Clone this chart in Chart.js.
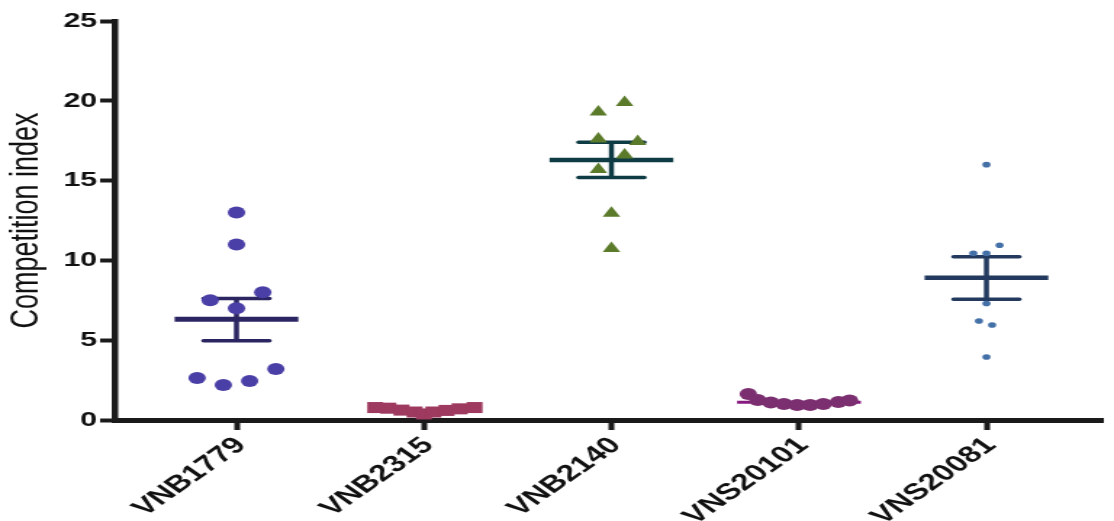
<!DOCTYPE html>
<html>
<head>
<meta charset="utf-8">
<script src="https://cdn.jsdelivr.net/npm/chart.js@4/dist/chart.umd.min.js"></script>
<style>
html,body{margin:0;padding:0;background:#fff;}
#c{display:block;}
</style>
</head>
<body>
<canvas id="c" width="768" height="521" style="width:1114px;height:521px"></canvas>
<script>
// categories and values
var categories=['VNB1779','VNB2315','VNB2140','VNS20101','VNS20081'];
var yTicks=[0,5,10,15,20,25];

var vnb1779=[13,11,7.5,8,7,2.63,2.19,2.44,3.19];
var vnb1779Jit=[0,0,-0.14,0.14,0,-0.21,-0.07,0.07,0.21];
var vnb2315=[0.78,0.74,0.62,0.5,0.38,0.5,0.6,0.7,0.78];
var vnb2315Jit=[-0.26,-0.19,-0.12,-0.05,0,0.05,0.12,0.19,0.27];
var vnb2140=[19.9,19.3,17.6,17.45,16.6,15.7,12.95,10.75];
var vnb2140Jit=[0.07,-0.07,-0.07,0.14,0.07,-0.07,0,0];
var vns20101=[1.63,1.25,1.1,1.0,0.94,0.94,1.0,1.13,1.22];
var vns20101Jit=[-0.27,-0.22,-0.15,-0.08,-0.01,0.06,0.13,0.21,0.27];
var vns20081=[16,10.95,10.45,10.45,7.3,6.2,5.95,3.95];
var vns20081Jit=[0,0.07,-0.07,0,0,-0.04,0.03,0];

var groupVals=[vnb1779,vnb2315,vnb2140,vns20101,vns20081];
var groupJit=[vnb1779Jit,vnb2315Jit,vnb2140Jit,vns20101Jit,vns20081Jit];

// mean and SEM bars as drawn
var meanVals=[6.31,null,16.29,1.11,8.92];
var semHi=[7.62,null,17.4,null,10.23];
var semLo=[4.97,null,15.2,null,7.56];

var pointColors=['#4a3fa6','#9e3a5f','#5b7a2a','#7b2f70','#4470a8'];
var lineColors=['#2b2562','#9e3a5f','#0f3b45','#871a7e','#233a5e'];
var pointStyles=['circle','rect','triangle','circle','circle'];
var pointRadii=[6,7.8,7,6,2.8];
var meanWidths=[5,5,4.5,3,4.5];

var FONT="'Liberation Sans', Arial, Helvetica, sans-serif";
var AXIS='#1a1a1a';
var HALF_MEAN=0.33, HALF_CAP=0.175;

var datasets=[];
groupVals.forEach(function(vals,g){
    datasets.push({
        type:'scatter',
        data:vals.map(function(v,i){return {x:g+groupJit[g][i],y:v};}),
        pointStyle:pointStyles[g],
        pointRadius:pointRadii[g],
        pointBackgroundColor:pointColors[g],
        pointBorderColor:pointColors[g],
        pointBorderWidth:0,
        order:0
    });
    if(meanVals[g]!==null){
        datasets.push({
            type:'line',
            data:[{x:g-HALF_MEAN,y:meanVals[g]},{x:g+HALF_MEAN,y:meanVals[g]}],
            borderColor:lineColors[g],
            borderWidth:meanWidths[g],
            pointRadius:0,
            fill:false,
            order:1
        });
    }
    if(semHi[g]!==null){
        datasets.push({
            type:'line',
            data:[
                {x:g-HALF_CAP,y:semHi[g]},{x:g+HALF_CAP,y:semHi[g]},{x:g,y:null},
                {x:g-HALF_CAP,y:semLo[g]},{x:g+HALF_CAP,y:semLo[g]},{x:g,y:null},
                {x:g,y:semLo[g]},{x:g,y:semHi[g]}
            ],
            borderColor:lineColors[g],
            borderWidth:3.5,
            borderCapStyle:'round',
            spanGaps:false,
            pointRadius:0,
            fill:false,
            order:1
        });
    }
});

new Chart(document.getElementById('c').getContext('2d'),{
    type:'scatter',
    data:{datasets:datasets},
    options:{
        responsive:false,
        animation:false,
        clip:false,
        layout:{padding:{top:21,right:0,left:0,bottom:0}},
        plugins:{legend:{display:false},tooltip:{enabled:false}},
        scales:{
            x:{
                type:'linear',
                min:-0.65,max:4.62,
                afterBuildTicks:function(s){s.ticks=categories.map(function(c,i){return {value:i};});},
                afterFit:function(s){s.height=101;},
                border:{display:true,color:AXIS,width:5},
                grid:{display:true,drawOnChartArea:false,drawTicks:true,tickLength:10,tickWidth:4,tickColor:AXIS},
                ticks:{
                    autoSkip:false,
                    minRotation:45,maxRotation:45,
                    padding:2,
                    labelOffset:3,
                    color:'#111',
                    font:{family:FONT,size:23,weight:'bold'},
                    callback:function(v){return categories[v]!==undefined?categories[v]:'';}
                }
            },
            y:{
                min:0,max:25,
                afterBuildTicks:function(s){s.ticks=yTicks.map(function(v){return {value:v};});},
                afterFit:function(s){s.width=79;},
                border:{display:true,color:AXIS,width:4.5},
                grid:{display:true,drawOnChartArea:false,drawTicks:true,tickLength:10,tickWidth:4,tickColor:AXIS},
                ticks:{padding:2,color:'#111',font:{family:FONT,size:21,weight:'bold'}},
                title:{display:true,text:'Competition index',color:'#111',padding:{top:2,bottom:0},font:{family:FONT,size:27,weight:'normal'}}
            }
        }
    }
});
</script>
</body>
</html>
